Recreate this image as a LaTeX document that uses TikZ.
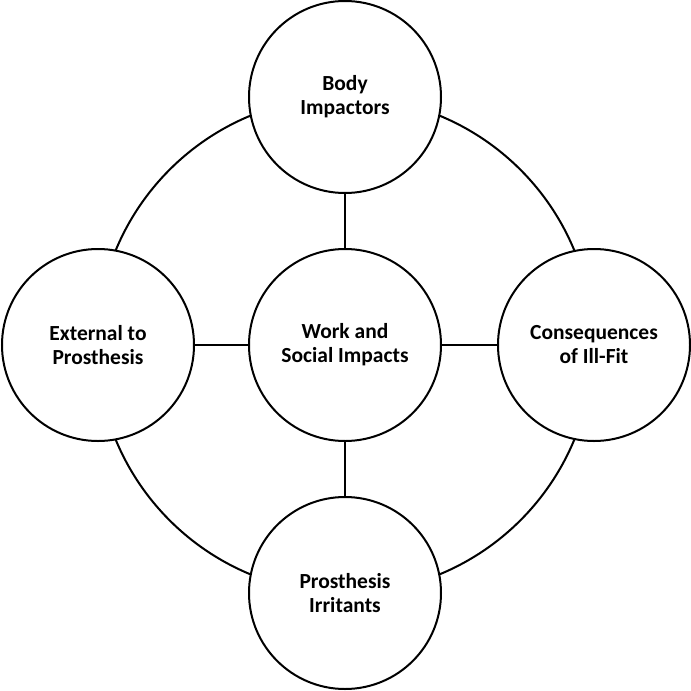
\documentclass[tikz,border=0pt]{standalone}
\usepackage{fontspec}
\setmainfont{Carlito}
\begin{document}
\begin{tikzpicture}[x=1pt,y=1pt,
  bubble/.style={circle,draw=black,line width=2pt,fill=white,minimum size=192pt,inner sep=0pt,align=center,
    font=\fontsize{21.5}{24}\selectfont\bfseries},
  link/.style={draw=black,line width=2pt}]
\useasboundingbox (0,0) rectangle (691,-691);
\coordinate (o) at (345,-345);
\draw[link] (o) circle[radius=248];
\node[bubble] (c) at (345,-345) {Work and\\Social Impacts};
\node[bubble] (t) at (345,-97) {Body\\Impactors};
\node[bubble] (b) at (345,-593) {Prosthesis\\Irritants};
\node[bubble] (l) at (98,-345) {External to\\Prosthesis};
\node[bubble] (r) at (594,-345) {Consequences\\of Ill-Fit};
\draw[link] (c) -- (t);
\draw[link] (c) -- (b);
\draw[link] (c) -- (l);
\draw[link] (c) -- (r);
\end{tikzpicture}
\end{document}
